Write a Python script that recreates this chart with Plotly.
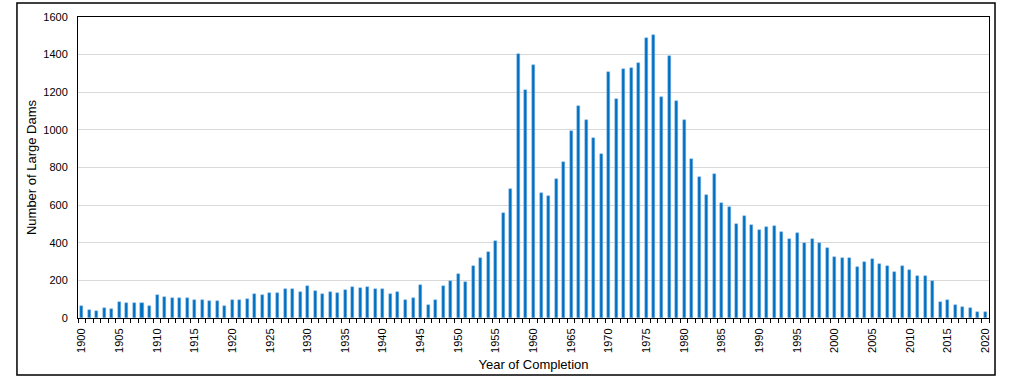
import plotly.graph_objects as go

years = list(range(1900, 2021))
dams = [
    65, 44, 39, 53, 46, 83, 78, 81, 78, 62,      # 1900-1909
    124, 113, 108, 108, 105, 94, 94, 89, 89, 66,  # 1910-1919
    94, 97, 99, 129, 124, 131, 131, 152, 156, 140,  # 1920-1929
    172, 142, 126, 138, 133, 147, 167, 161, 167, 152,  # 1930-1939
    154, 126, 136, 94, 108, 174, 71, 94, 170, 195,  # 1940-1949
    236, 190, 278, 321, 349, 408, 556, 684, 1401, 1210,  # 1950-1959
    1343, 663, 647, 737, 827, 996, 1127, 1052, 958, 873,  # 1960-1969
    1306, 1166, 1325, 1327, 1357, 1488, 1506, 1176, 1391, 1153,  # 1970-1979
    1052, 845, 749, 652, 767, 611, 592, 500, 542, 494,  # 1980-1989
    470, 484, 489, 457, 418, 454, 400, 418, 397, 370,  # 1990-1999
    326, 319, 317, 273, 296, 314, 285, 275, 243, 276,  # 2000-2009
    253, 225, 221, 198, 87, 94, 71, 60, 51, 34,  # 2010-2019
    34,  # 2020
]
x_tick_labels = [str(y) for y in range(1900, 2021, 5)]
y_ticks = list(range(0, 1601, 200))

fig = go.Figure()
fig.add_trace(go.Bar(
    x=years, y=dams, width=0.4,
    marker=dict(color="#0070C0", line=dict(color="#8DB8E6", width=0.5)),
))

font = "Liberation Sans, Arial, sans-serif"
fig.update_layout(
    width=1016, height=385,
    margin=dict(l=78, r=27, t=17, b=67),
    paper_bgcolor="white", plot_bgcolor="white",
    showlegend=False,
    font=dict(family=font, size=11, color="black"),
    bargap=0,
    shapes=[dict(type="rect", xref="paper", yref="paper",
                 x0=-0.067, x1=1.0066, y0=-0.189, y1=1.0465,
                 line=dict(color="black", width=1.5), fillcolor="rgba(0,0,0,0)",
                 layer="below")],
)
fig.update_xaxes(
    range=[1899.5, 2020.5],
    tickmode="array", tickvals=[int(t) for t in x_tick_labels], ticktext=x_tick_labels,
    tickangle=-90, ticks="", showgrid=False, ticklabelstandoff=5,
    showline=True, linecolor="black", linewidth=1, mirror=True,
    minor=dict(tickmode="linear", tick0=1899.5, dtick=1, ticks="outside",
               ticklen=4, tickcolor="black", showgrid=False),
    title=dict(text="Year of Completion", font=dict(size=13), standoff=8),
    tickfont=dict(size=11),
)
fig.update_yaxes(
    range=[0, 1600], tickmode="array", tickvals=y_ticks,
    showgrid=True, gridcolor="#D9D9D9", gridwidth=1,
    showline=True, linecolor="black", linewidth=1, mirror=True,
    ticks="", zeroline=False, ticklabelstandoff=7,
    title=dict(text="Number of Large Dams", font=dict(size=13), standoff=3),
    tickfont=dict(size=11),
)

fig.write_html("out.html", config={"displayModeBar": False},
               post_script="document.body.style.margin='0';")
